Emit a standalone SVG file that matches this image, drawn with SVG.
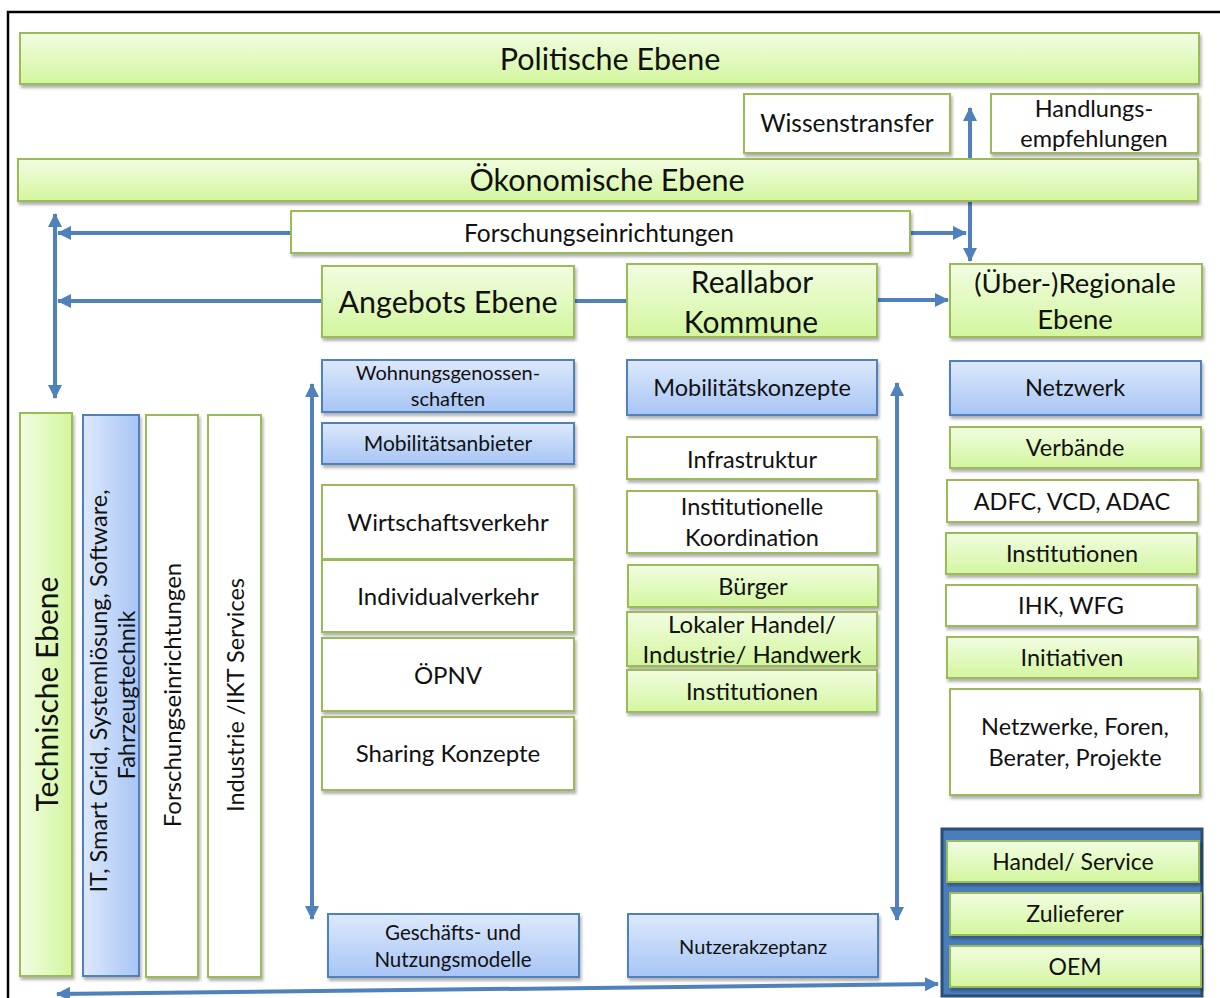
<svg xmlns="http://www.w3.org/2000/svg" width="1220" height="998" viewBox="0 0 1220 998">
<defs>
<linearGradient id="gG" x1="0" y1="0" x2="0" y2="1"><stop offset="0" stop-color="#f1fde2"/><stop offset="1" stop-color="#d3f69e"/></linearGradient>
<linearGradient id="gB" x1="0" y1="0" x2="0" y2="1"><stop offset="0" stop-color="#dde9fb"/><stop offset="1" stop-color="#a7c5f5"/></linearGradient>
<linearGradient id="gGv" x1="0" y1="0" x2="1" y2="0"><stop offset="0" stop-color="#f1fde2"/><stop offset="1" stop-color="#d3f69e"/></linearGradient>
<linearGradient id="gBv" x1="0" y1="0" x2="1" y2="0"><stop offset="0" stop-color="#dde9fb"/><stop offset="1" stop-color="#a7c5f5"/></linearGradient>
<filter id="sh" x="-10%" y="-10%" width="120%" height="130%"><feDropShadow dx="1.5" dy="3" stdDeviation="1.5" flood-color="#000" flood-opacity="0.3"/></filter>
<marker id="ah" markerUnits="userSpaceOnUse" markerWidth="16" markerHeight="16" refX="13" refY="8" orient="auto-start-reverse" viewBox="0 0 16 16"><path d="M0,1 L14,8 L0,15 Z" fill="#4f81bd"/></marker>
<style>
.g{fill:url(#gG);stroke:#9bbb59;stroke-width:2;filter:url(#sh)}
.b{fill:url(#gB);stroke:#4f81bd;stroke-width:2;filter:url(#sh)}
.w{fill:#fff;stroke:#9bbb59;stroke-width:2;filter:url(#sh)}
.gv{fill:url(#gGv);stroke:#9bbb59;stroke-width:2;filter:url(#sh)}
.bv{fill:url(#gBv);stroke:#4f81bd;stroke-width:2;filter:url(#sh)}
text{font-family:Lato,"Liberation Sans",sans-serif;fill:#111;text-anchor:middle}
.c line{stroke:#4f81bd;stroke-width:4;fill:none}
</style>
</defs>
<rect x="0" y="0" width="1220" height="998" fill="#fff"/>
<path d="M8,998 V12 H1220" fill="none" stroke="#000" stroke-width="2.5"/>

<g id="connectors" class="c">
<line x1="55" y1="398" x2="55" y2="214" marker-start="url(#ah)" marker-end="url(#ah)"/>
<line x1="291" y1="233" x2="58" y2="233" marker-end="url(#ah)"/>
<line x1="322" y1="301" x2="58" y2="301" marker-end="url(#ah)"/>
<line x1="574" y1="301" x2="627" y2="301"/>
<line x1="877" y1="300" x2="948" y2="300" marker-end="url(#ah)"/>
<line x1="910" y1="233" x2="966" y2="233" marker-end="url(#ah)"/>
<line x1="970" y1="261" x2="970" y2="108" marker-start="url(#ah)" marker-end="url(#ah)"/>
<line x1="312" y1="919" x2="312" y2="384" marker-start="url(#ah)" marker-end="url(#ah)"/>
<line x1="897" y1="920" x2="897" y2="383" marker-start="url(#ah)" marker-end="url(#ah)"/>
<line x1="57" y1="994" x2="938" y2="984" marker-start="url(#ah)" marker-end="url(#ah)"/>
</g>

<g id="politische"><rect class="g" x="20" y="33" width="1179" height="51"/><text x="610" y="70" font-size="30.5">Politische Ebene</text></g>
<g id="wissenstransfer"><rect class="w" x="744" y="94" width="206" height="59"/><text x="847" y="132" font-size="24.5">Wissenstransfer</text></g>
<g id="handlungs"><rect class="w" x="991" y="94" width="207" height="59"/><text x="1094" y="117" font-size="23.5">Handlungs-</text><text x="1094" y="147" font-size="23.5">empfehlungen</text></g>
<g id="oekonomische"><rect class="g" x="18" y="159" width="1180" height="42"/><text x="607" y="191" font-size="30.5">Ökonomische Ebene</text></g>
<g id="forschung-top"><rect class="w" x="291" y="211" width="619" height="42"/><text x="599" y="242" font-size="24.5">Forschungseinrichtungen</text></g>
<g id="angebots"><rect class="g" x="322" y="266" width="252" height="71"/><text x="448" y="313" font-size="30.5">Angebots Ebene</text></g>
<g id="reallabor"><rect class="g" x="627" y="264" width="250" height="73"/><text x="752" y="293" font-size="30">Reallabor</text><text x="751" y="333" font-size="30">Kommune</text></g>
<g id="regionale"><rect class="g" x="950" y="264" width="252" height="73"/><text x="1075" y="293" font-size="27.5">(Über-)Regionale</text><text x="1075" y="329" font-size="27.5">Ebene</text></g>

<g id="technische"><rect class="gv" x="20" y="413" width="52" height="563"/><text transform="translate(47,694) rotate(-90)" x="0" y="10.5" font-size="30">Technische Ebene</text></g>
<g id="it"><rect class="bv" x="83" y="415" width="56" height="561"/><text transform="translate(99,691) rotate(-90)" x="0" y="8" font-size="23.5">IT, Smart Grid, Systemlösung, Software,</text><text transform="translate(127,695) rotate(-90)" x="0" y="8" font-size="23.5">Fahrzeugtechnik</text></g>
<g id="forschung-v"><rect class="w" x="146" y="415" width="52" height="562"/><text transform="translate(172,695) rotate(-90)" x="0" y="8.5" font-size="24">Forschungseinrichtungen</text></g>
<g id="industrie"><rect class="w" x="208" y="415" width="53" height="562"/><text transform="translate(235,695) rotate(-90)" x="0" y="8.5" font-size="23.5">Industrie /IKT Services</text></g>

<g id="wohnung"><rect class="b" x="322" y="360" width="252" height="52"/><text x="448" y="380" font-size="20">Wohnungsgenossen-</text><text x="448" y="406" font-size="20">schaften</text></g>
<g id="mobanbieter"><rect class="b" x="322" y="423" width="252" height="41"/><text x="448" y="451" font-size="21">Mobilitätsanbieter</text></g>
<g id="wirtschaft"><rect class="w" x="322" y="485" width="252" height="74"/><text x="448" y="531" font-size="24">Wirtschaftsverkehr</text></g>
<g id="individual"><rect class="w" x="322" y="560" width="252" height="72"/><text x="448" y="605" font-size="24">Individualverkehr</text></g>
<g id="oepnv"><rect class="w" x="322" y="638" width="252" height="73"/><text x="448" y="684" font-size="24">ÖPNV</text></g>
<g id="sharing"><rect class="w" x="322" y="717" width="252" height="73"/><text x="448" y="762" font-size="24">Sharing Konzepte</text></g>
<g id="geschaeft"><rect class="b" x="328" y="914" width="251" height="63"/><text x="453" y="940" font-size="20.5">Geschäfts- und</text><text x="453" y="967" font-size="20.5">Nutzungsmodelle</text></g>

<g id="mobkonzepte"><rect class="b" x="627" y="360" width="250" height="55"/><text x="752" y="396" font-size="23.5">Mobilitätskonzepte</text></g>
<g id="infrastruktur"><rect class="w" x="627" y="437" width="250" height="42"/><text x="752" y="468" font-size="23.5">Infrastruktur</text></g>
<g id="institutionelle"><rect class="w" x="627" y="491" width="250" height="62"/><text x="752" y="515" font-size="23.5">Institutionelle</text><text x="752" y="546" font-size="23.5">Koordination</text></g>
<g id="buerger"><rect class="g" x="628" y="565" width="250" height="42"/><text x="753" y="595" font-size="23.5">Bürger</text></g>
<g id="lokaler"><rect class="g" x="627" y="612" width="250" height="54"/><text x="752" y="633" font-size="24">Lokaler Handel/</text><text x="752" y="663" font-size="24">Industrie/ Handwerk</text></g>
<g id="institutionen-m"><rect class="g" x="627" y="670" width="250" height="42"/><text x="752" y="700" font-size="23.5">Institutionen</text></g>
<g id="nutzer"><rect class="b" x="628" y="914" width="250" height="63"/><text x="753" y="954" font-size="20">Nutzerakzeptanz</text></g>

<g id="netzwerk"><rect class="b" x="950" y="361" width="251" height="54"/><text x="1075" y="396" font-size="23.5">Netzwerk</text></g>
<g id="verbaende"><rect class="g" x="950" y="427" width="251" height="41"/><text x="1075" y="456" font-size="23.5">Verbände</text></g>
<g id="adfc"><rect class="w" x="947" y="480" width="251" height="42"/><text x="1072" y="510" font-size="23.5">ADFC, VCD, ADAC</text></g>
<g id="institutionen-r"><rect class="g" x="946" y="533" width="251" height="41"/><text x="1072" y="562" font-size="23.5">Institutionen</text></g>
<g id="ihk"><rect class="w" x="946" y="585" width="251" height="41"/><text x="1071" y="614" font-size="23.5">IHK, WFG</text></g>
<g id="initiativen"><rect class="g" x="947" y="637" width="251" height="41"/><text x="1072" y="666" font-size="23.5">Initiativen</text></g>
<g id="netzwerke"><rect class="w" x="950" y="689" width="250" height="106"/><text x="1075" y="735" font-size="23.5">Netzwerke, Foren,</text><text x="1075" y="766" font-size="23.5">Berater, Projekte</text></g>

<g id="wirtschaft-stack"><rect x="942" y="829" width="260" height="167" fill="#4a7ebb" stroke="#2c4d75" stroke-width="3"/>
<rect class="g" x="947" y="841" width="252" height="41"/><text x="1073" y="870" font-size="23">Handel/ Service</text>
<rect class="g" x="950" y="893" width="251" height="42"/><text x="1075" y="922" font-size="23">Zulieferer</text>
<rect class="g" x="950" y="946" width="251" height="41"/><text x="1075" y="975" font-size="23">OEM</text></g>
</svg>
